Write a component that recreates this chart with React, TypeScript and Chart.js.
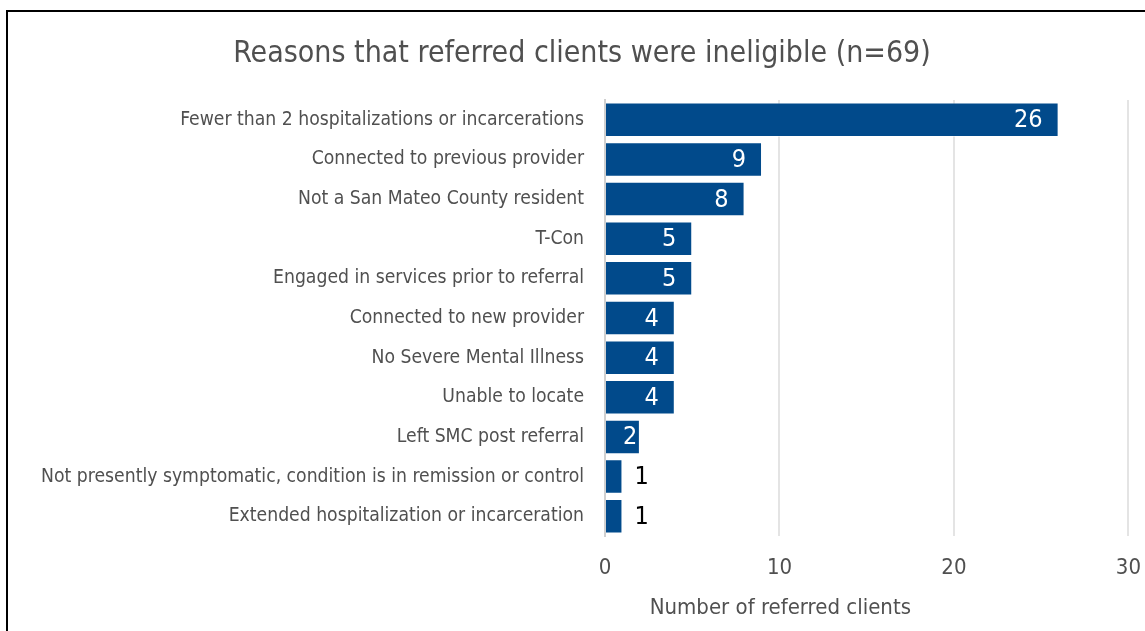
import React, { useEffect, useRef } from "react";
import { Chart, registerables } from "chart.js";

Chart.register(...registerables);

const categories: string[] = [
  "Fewer than 2 hospitalizations or incarcerations",
  "Connected to previous provider",
  "Not a San Mateo County resident",
  "T-Con",
  "Engaged in services prior to referral",
  "Connected to new provider",
  "No Severe Mental Illness",
  "Unable to locate",
  "Left SMC post referral",
  "Not presently symptomatic, condition is in remission or control",
  "Extended hospitalization or incarceration",
];
const counts: number[] = [26, 9, 8, 5, 5, 4, 4, 4, 2, 1, 1];
const xTicks: number[] = [0, 10, 20, 30];

const titleText = "Reasons that referred clients were ineligible (n=69)";
const xAxisTitle = "Number of referred clients";

const FONT = "'Liberation Sans Narrow', 'DejaVu Sans Condensed', 'Roboto Condensed', sans-serif";
const GREY = "#505050";
const BAR = "#014A8B";
const CANVAS_W = 1152;
const FRAME_W = 1148;

const valueLabels = {
  id: "valueLabels",
  afterDatasetsDraw(chart: any) {
    const ctx = chart.ctx;
    const meta = chart.getDatasetMeta(0);
    ctx.save();
    ctx.font = `25px ${FONT}`;
    ctx.textBaseline = "middle";
    meta.data.forEach((bar: any, i: number) => {
      const v = counts[i];
      const txt = String(v);
      const w = ctx.measureText(txt).width;
      if (v >= 2) {
        ctx.fillStyle = "#ffffff";
        ctx.textAlign = "right";
        const right = Math.max(bar.x - 16, bar.base + 17 + w);
        ctx.fillText(txt, right, bar.y + 1);
      } else {
        ctx.fillStyle = "#000000";
        ctx.textAlign = "left";
        ctx.fillText(txt, bar.x + 12, bar.y + 1);
      }
    });
    ctx.restore();
  },
};

const texts = {
  id: "texts",
  afterDraw(chart: any) {
    const ctx = chart.ctx;
    const xs = chart.scales.x;
    ctx.save();
    ctx.fillStyle = GREY;
    ctx.textAlign = "center";
    ctx.textBaseline = "middle";
    ctx.font = `30px ${FONT}`;
    ctx.fillText(titleText, FRAME_W / 2, 42);
    ctx.font = `22px ${FONT}`;
    ctx.fillText(xAxisTitle, xs.getPixelForValue(10.05), chart.chartArea.bottom + 72);
    ctx.restore();
  },
};

export default function App() {
  const ref = useRef<HTMLCanvasElement | null>(null);
  useEffect(() => {
    if (!ref.current) return;
    const chart = new Chart(ref.current, {
      type: "bar",
      data: {
        labels: categories,
        datasets: [
          {
            data: counts,
            backgroundColor: BAR,
            borderColor: "rgba(255,255,255,0.55)",
            borderWidth: 1,
            barPercentage: 0.87,
            categoryPercentage: 1,
          },
        ],
      },
      options: {
        indexAxis: "y",
        animation: false,
        responsive: false,
        maintainAspectRatio: false,
        layout: { padding: { left: 0, right: 6, top: 88, bottom: 0 } },
        plugins: {
          legend: { display: false },
          tooltip: { enabled: false },
          title: { display: false },
        },
        scales: {
          x: {
            min: 0,
            max: 30,
            afterBuildTicks: (s: any) => {
              s.ticks = xTicks.map((v) => ({ value: v }));
            },
            afterFit: (s: any) => {
              s.height = 112;
            },
            grid: { color: "#E4E4E4", lineWidth: 2, drawTicks: false },
            border: { display: false },
            ticks: {
              color: GREY,
              font: { family: FONT, size: 22 },
              padding: 19,
            },
          },
          y: {
            afterFit: (s: any) => {
              s.width = 597;
            },
            grid: { display: false, drawTicks: false },
            border: { display: true, color: "#D0D0D0", width: 2 },
            ticks: {
              color: GREY,
              font: { family: FONT, size: 19.2 },
              padding: 21,
              autoSkip: false,
            },
          },
        },
      },
      plugins: [valueLabels, texts],
    });
    return () => chart.destroy();
  }, []);

  return (
    <div
      style={{
        position: "fixed",
        left: 0,
        top: 0,
        width: 1145,
        height: 631,
        overflow: "hidden",
        background: "#ffffff",
      }}
    >
      <div
        style={{
          position: "absolute",
          left: 6,
          top: 10,
          width: CANVAS_W + 4,
          height: 640,
          border: "2px solid #000000",
          boxSizing: "border-box",
          background: "#ffffff",
        }}
      >
        <canvas ref={ref} width={CANVAS_W} height={636} style={{ display: "block" }} />
      </div>
    </div>
  );
}
